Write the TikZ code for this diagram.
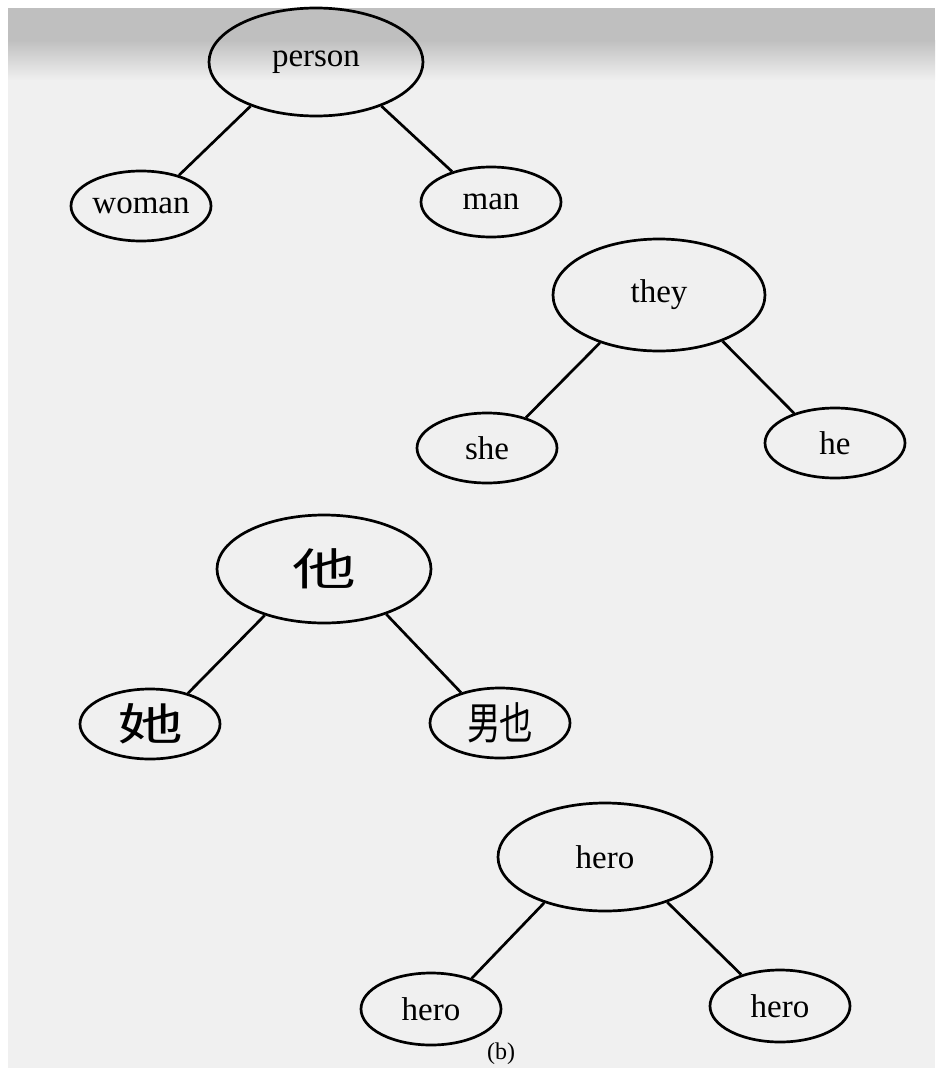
\documentclass[tikz,border=0pt]{standalone}
\usepackage{fontspec}
\setmainfont{Liberation Serif}
\newfontfamily\cjk{Noto Sans CJK SC}
\usetikzlibrary{shapes.geometric}
\begin{document}
\begin{tikzpicture}[x=1pt,y=-1pt,
  ell/.style={draw=black,line width=2.7pt,ellipse,inner sep=0pt,
    font=\fontsize{33}{33}\selectfont},
  big/.style={ell,minimum width=214pt,minimum height=108pt},
  small/.style={ell,minimum width=140pt,minimum height=70pt},
  cjkt/.style={font=\cjk\fontsize{44}{44}\selectfont},
  edge/.style={draw=black,line width=2.7pt}]
\fill[white] (0,0) rectangle (935,1068);
\fill[black!6] (8,8) rectangle (935,1068);
\fill[black!25] (8,8) rectangle (935,40);
\shade[top color=black!25,bottom color=black!6] (8,40) rectangle (935,80);
\useasboundingbox (0,0) rectangle (935,1068);
% tree 1
\node[big] (person) at (316,62) {person};
\node[small] (woman) at (141,206) {woman};
\node[small] (man) at (491,202) {man};
\draw[edge] (person.214) -- (woman.39);
\draw[edge] (person.326) -- (man.142);
% tree 2
\node[big,minimum width=212pt,minimum height=112pt] (they) at (659,295) {they};
\node[small] (she) at (487,448) {she};
\node[small] (he) at (835,443) {he};
\draw[edge] (they.219) -- (she.38);
\draw[edge] (they.324) -- (he.144);
% tree 3
\node[big,cjkt] (ta) at (324,569) {\scalebox{1.45}[1]{他}};
\node[small,cjkt] (taf) at (150,724) {\scalebox{1.5}[1]{她}};
\node[small,cjkt] (tam) at (500,723) {\scalebox{0.76}[1]{男}\hspace{-2pt}\scalebox{0.76}[1]{也}};
\draw[edge] (ta.218) -- (taf.39);
\draw[edge] (ta.324) -- (tam.142);
% tree 4
\node[big] (hero) at (605,857) {hero};
\node[small,minimum height=72pt] (heroL) at (431,1009) {hero};
\node[small,minimum height=72pt] (heroR) at (780,1006) {hero};
\draw[edge] (hero.217) -- (heroL.37);
\draw[edge] (hero.324) -- (heroR.141);
\node[font=\fontsize{24}{24}\selectfont] (cap) at (501,1054) {(b)};
\end{tikzpicture}
\end{document}
